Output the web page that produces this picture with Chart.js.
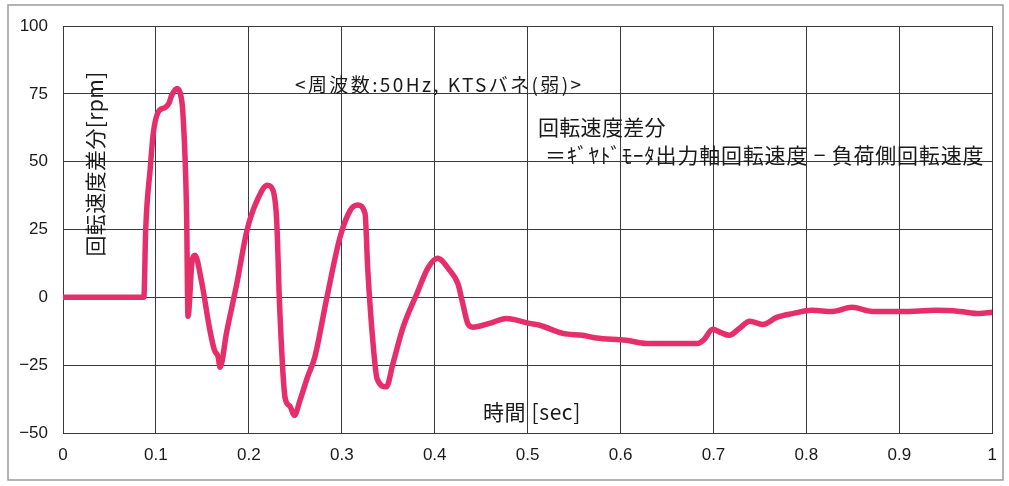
<!DOCTYPE html>
<html lang="ja">
<head>
<meta charset="utf-8">
<title>回転速度差分</title>
<script src="https://cdn.jsdelivr.net/npm/chart.js@4.4.1/dist/chart.umd.min.js"></script>
<style>
  html, body { margin: 0; padding: 0; background: #ffffff; }
  #wrap { position: relative; width: 1009px; height: 486px; }
</style>
</head>
<body>
<div id="wrap"><canvas id="c" width="1009" height="486"></canvas></div>
<script>
// 時間 [sec]
const timeSec = [
  0, 0.04, 0.087, 0.089, 0.094, 0.097, 0.102, 0.110, 0.114, 0.117,
  0.123, 0.127, 0.129, 0.133, 0.1345, 0.139, 0.142, 0.149, 0.158, 0.163,
  0.167, 0.169, 0.176, 0.187, 0.198, 0.209, 0.220, 0.226, 0.230, 0.233,
  0.239, 0.244, 0.249, 0.255, 0.263, 0.271, 0.284, 0.298, 0.309, 0.317,
  0.325, 0.328, 0.334, 0.338, 0.348, 0.355, 0.366, 0.381, 0.393, 0.403,
  0.416, 0.425, 0.430, 0.436, 0.441, 0.459, 0.477, 0.502, 0.513, 0.538,
  0.559, 0.574, 0.606, 0.628, 0.656, 0.683, 0.690, 0.699, 0.708, 0.717,
  0.728, 0.739, 0.753, 0.768, 0.785, 0.806, 0.828, 0.849, 0.871, 0.903,
  0.940, 0.965, 0.986, 1.0
];

// 回転速度差分 [rpm]
const speedDiff = [
  0, 0, 0, 25, 48, 60, 68, 70, 71.5, 74.5,
  77, 74, 68, 31, -7, 13.6, 15.5, 6, -12, -19.5,
  -22, -25.8, -13, 5, 24.7, 35.8, 41.3, 39.4, 28, -2.3,
  -37, -40, -43.5, -38, -29.5, -22, 0, 22, 32, 34,
  31, 10, -18.4, -30, -33, -24.5, -11, 1.5, 11, 14.4,
  10, 5, -2, -10, -11, -9.6, -7.8, -9.6, -10.3, -13.3,
  -14, -15, -15.8, -17, -17, -17, -15.5, -11.8, -13, -14,
  -11.4, -8.8, -10, -7.4, -6, -4.8, -5.2, -3.7, -5.2, -5.2,
  -4.8, -5.2, -6, -5.5
];

// 軸目盛
const xTicks = [0, 0.1, 0.2, 0.3, 0.4, 0.5, 0.6, 0.7, 0.8, 0.9, 1];
const xTickLabels = ['0', '0.1', '0.2', '0.3', '0.4', '0.5', '0.6', '0.7', '0.8', '0.9', '1'];
const yTicks = [-50, -25, 0, 25, 50, 75, 100];
const yTickLabels = ['\u221250', '\u221225', '0', '25', '50', '75', '100'];

// 図中テキスト
const titleText = '<周波数:50Hz, KTSバネ(弱)>';
const noteLine1 = '回転速度差分';
const noteLine2 = '＝ｷﾞﾔﾄﾞﾓｰﾀ出力軸回転速度 − 負荷側回転速度';
const yTitle = '回転速度差分[rpm]';
const xTitle = '時間 [sec]';

const points = timeSec.map((t, i) => ({ x: t, y: speedDiff[i] }));

const JP = '"Noto Sans CJK JP", "Noto Sans", sans-serif';
const GRID = '#3a3a3a';

function drawText(ctx, text, x, y, font, spacing) {
  ctx.font = font;
  ctx.letterSpacing = spacing + 'px';
  ctx.fillText(text, x, y);
}

const textPlugin = {
  id: 'textPlugin',
  beforeDraw(chart) {
    const ctx = chart.ctx;
    ctx.save();
    ctx.fillStyle = '#ffffff';
    ctx.fillRect(0, 0, chart.width, chart.height);
    // 外枠
    ctx.strokeStyle = '#9a9a9a';
    ctx.lineWidth = 1.5;
    ctx.strokeRect(8, 5, 995, 475);
    ctx.restore();
  },
  afterDraw(chart) {
    const ctx = chart.ctx;
    ctx.save();
    ctx.fillStyle = '#1a1a1a';
    ctx.textBaseline = 'middle';
    ctx.textAlign = 'left';
    drawText(ctx, titleText, 295, 85, '19px ' + JP, 2.4);
    drawText(ctx, noteLine1, 538, 127, '21px ' + JP, 0.3);
    drawText(ctx, noteLine2, 545, 155, '21px ' + JP, 0.8);
    drawText(ctx, xTitle, 483, 412, '21px ' + JP, 0.6);
    // 縦軸タイトル
    ctx.translate(95, 164);
    ctx.rotate(-Math.PI / 2);
    ctx.textAlign = 'center';
    drawText(ctx, yTitle, 0, 0, '21px ' + JP, 0.4);
    ctx.restore();
  }
};

new Chart(document.getElementById('c'), {
  type: 'line',
  data: {
    datasets: [{
      data: points,
      borderColor: '#e62e6b',
      borderWidth: 5.5,
      pointRadius: 0,
      cubicInterpolationMode: 'monotone',
      fill: false
    }]
  },
  options: {
    responsive: false,
    animation: false,
    events: [],
    layout: { padding: { left: 0, top: 26, right: 16, bottom: 0 } },
    plugins: { legend: { display: false }, tooltip: { enabled: false } },
    scales: {
      x: {
        type: 'linear',
        min: 0,
        max: 1,
        afterBuildTicks: s => { s.ticks = xTicks.map(v => ({ value: v })); },
        afterFit: s => { s.height = 53; },
        grid: { color: GRID, lineWidth: 1, drawTicks: false },
        border: { color: GRID, width: 1 },
        ticks: {
          padding: 12,
          color: '#1a1a1a',
          font: { family: '"Liberation Sans", Arial, sans-serif', size: 17 },
          callback: (v) => { const i = xTicks.indexOf(v); return i >= 0 ? xTickLabels[i] : ''; },
          maxRotation: 0
        }
      },
      y: {
        min: -50,
        max: 100,
        afterBuildTicks: s => { s.ticks = yTicks.map(v => ({ value: v })); },
        afterFit: s => { s.width = 63; },
        grid: { color: GRID, lineWidth: 1, drawTicks: false },
        border: { color: GRID, width: 1 },
        ticks: {
          padding: 15,
          color: '#1a1a1a',
          font: { family: '"Liberation Sans", Arial, sans-serif', size: 17 },
          callback: (v) => { const i = yTicks.indexOf(v); return i >= 0 ? yTickLabels[i] : ''; }
        }
      }
    }
  },
  plugins: [textPlugin]
});
</script>
</body>
</html>
